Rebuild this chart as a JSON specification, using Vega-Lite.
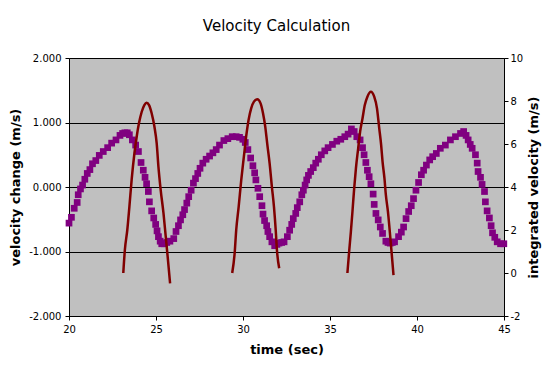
{
  "$schema": "https://vega.github.io/schema/vega-lite/v6.json",
  "width": 435,
  "height": 258,
  "autosize": {"type": "none"},
  "padding": {"left": 69, "top": 58, "right": 48, "bottom": 70},
  "background": "white",
  "title": {"text": "Velocity Calculation", "font": "DejaVu Sans", "fontSize": 15, "fontWeight": "normal", "color": "black", "offset": 19, "dx": -10},
  "config": {
    "view": {"fill": "#c0c0c0", "stroke": "#808080", "strokeWidth": 1},
    "locale": {"number": {"decimal": ".", "thousands": ",", "grouping": [3], "currency": ["$", ""], "minus": "-"}},
    "axis": {"labelFont": "DejaVu Sans", "labelFontSize": 10, "labelColor": "black", "titleFont": "DejaVu Sans", "titleFontSize": 13, "titleFontWeight": "bold", "titleColor": "black", "domainColor": "black", "tickColor": "black", "tickSize": 4}
  },
  "datasets": {
    "vel": [
      {"t": 20.00, "v": -0.56}, {"t": 20.14, "v": -0.47}, {"t": 20.30, "v": -0.33}, {"t": 20.47, "v": -0.24}, {"t": 20.53, "v": -0.12},
      {"t": 20.66, "v": -0.03}, {"t": 20.78, "v": 0.03}, {"t": 20.91, "v": 0.12}, {"t": 21.05, "v": 0.21}, {"t": 21.20, "v": 0.27},
      {"t": 21.35, "v": 0.36}, {"t": 21.54, "v": 0.41}, {"t": 21.74, "v": 0.49}, {"t": 21.97, "v": 0.55}, {"t": 22.22, "v": 0.61},
      {"t": 22.45, "v": 0.68}, {"t": 22.70, "v": 0.73}, {"t": 22.93, "v": 0.80}, {"t": 23.08, "v": 0.83}, {"t": 23.21, "v": 0.84}, {"t": 23.35, "v": 0.84},
      {"t": 23.47, "v": 0.81}, {"t": 23.64, "v": 0.73}, {"t": 23.83, "v": 0.65}, {"t": 23.99, "v": 0.55}, {"t": 24.14, "v": 0.38},
      {"t": 24.27, "v": 0.26}, {"t": 24.37, "v": 0.15}, {"t": 24.46, "v": 0.05}, {"t": 24.56, "v": -0.07}, {"t": 24.62, "v": -0.23},
      {"t": 24.75, "v": -0.37}, {"t": 24.87, "v": -0.48}, {"t": 24.98, "v": -0.58}, {"t": 25.06, "v": -0.68}, {"t": 25.14, "v": -0.77}, {"t": 25.24, "v": -0.84},
      {"t": 25.33, "v": -0.88}, {"t": 25.48, "v": -0.88}, {"t": 25.62, "v": -0.86}, {"t": 25.80, "v": -0.84}, {"t": 26.02, "v": -0.80}, {"t": 26.15, "v": -0.69},
      {"t": 26.29, "v": -0.60}, {"t": 26.41, "v": -0.51}, {"t": 26.54, "v": -0.43}, {"t": 26.64, "v": -0.35}, {"t": 26.77, "v": -0.25},
      {"t": 26.88, "v": -0.15}, {"t": 27.02, "v": -0.05}, {"t": 27.15, "v": 0.06}, {"t": 27.27, "v": 0.13}, {"t": 27.40, "v": 0.21},
      {"t": 27.53, "v": 0.29}, {"t": 27.69, "v": 0.37}, {"t": 27.88, "v": 0.43}, {"t": 28.08, "v": 0.48}, {"t": 28.27, "v": 0.53},
      {"t": 28.46, "v": 0.58}, {"t": 28.65, "v": 0.65}, {"t": 28.90, "v": 0.72}, {"t": 29.13, "v": 0.75}, {"t": 29.38, "v": 0.78},
      {"t": 29.61, "v": 0.78}, {"t": 29.80, "v": 0.77}, {"t": 29.99, "v": 0.74}, {"t": 30.13, "v": 0.69}, {"t": 30.28, "v": 0.58},
      {"t": 30.44, "v": 0.45}, {"t": 30.57, "v": 0.33}, {"t": 30.67, "v": 0.22}, {"t": 30.74, "v": 0.11}, {"t": 30.86, "v": -0.02},
      {"t": 30.96, "v": -0.15}, {"t": 31.09, "v": -0.29}, {"t": 31.15, "v": -0.42}, {"t": 31.24, "v": -0.52}, {"t": 31.36, "v": -0.60},
      {"t": 31.43, "v": -0.69}, {"t": 31.53, "v": -0.77}, {"t": 31.66, "v": -0.85}, {"t": 31.82, "v": -0.91}, {"t": 31.95, "v": -0.89}, {"t": 32.07, "v": -0.87},
      {"t": 32.22, "v": -0.86}, {"t": 32.36, "v": -0.85}, {"t": 32.55, "v": -0.77}, {"t": 32.68, "v": -0.67}, {"t": 32.80, "v": -0.58}, {"t": 32.89, "v": -0.49},
      {"t": 33.03, "v": -0.41}, {"t": 33.12, "v": -0.32}, {"t": 33.26, "v": -0.23}, {"t": 33.38, "v": -0.12}, {"t": 33.47, "v": -0.05},
      {"t": 33.57, "v": 0.03}, {"t": 33.66, "v": 0.11}, {"t": 33.76, "v": 0.18}, {"t": 33.89, "v": 0.24}, {"t": 34.04, "v": 0.30},
      {"t": 34.18, "v": 0.37}, {"t": 34.33, "v": 0.43}, {"t": 34.50, "v": 0.50}, {"t": 34.70, "v": 0.56}, {"t": 34.89, "v": 0.61},
      {"t": 35.14, "v": 0.66}, {"t": 35.39, "v": 0.71}, {"t": 35.62, "v": 0.74}, {"t": 35.85, "v": 0.78}, {"t": 36.04, "v": 0.82},
      {"t": 36.23, "v": 0.90}, {"t": 36.39, "v": 0.86}, {"t": 36.54, "v": 0.78}, {"t": 36.73, "v": 0.73}, {"t": 36.87, "v": 0.61},
      {"t": 36.96, "v": 0.50}, {"t": 37.06, "v": 0.38}, {"t": 37.15, "v": 0.26}, {"t": 37.25, "v": 0.16}, {"t": 37.35, "v": 0.05},
      {"t": 37.48, "v": -0.11}, {"t": 37.54, "v": -0.27}, {"t": 37.64, "v": -0.41}, {"t": 37.77, "v": -0.51}, {"t": 37.89, "v": -0.62},
      {"t": 38.02, "v": -0.72}, {"t": 38.21, "v": -0.84}, {"t": 38.33, "v": -0.86}, {"t": 38.46, "v": -0.87}, {"t": 38.58, "v": -0.86}, {"t": 38.71, "v": -0.85},
      {"t": 38.94, "v": -0.77}, {"t": 39.10, "v": -0.70}, {"t": 39.23, "v": -0.62}, {"t": 39.37, "v": -0.49}, {"t": 39.52, "v": -0.38}, {"t": 39.67, "v": -0.29},
      {"t": 39.80, "v": -0.18}, {"t": 39.94, "v": -0.05}, {"t": 40.09, "v": 0.07}, {"t": 40.25, "v": 0.19}, {"t": 40.38, "v": 0.26},
      {"t": 40.54, "v": 0.34}, {"t": 40.73, "v": 0.42}, {"t": 40.90, "v": 0.47}, {"t": 41.11, "v": 0.52}, {"t": 41.34, "v": 0.60},
      {"t": 41.63, "v": 0.65}, {"t": 41.92, "v": 0.73}, {"t": 42.21, "v": 0.78}, {"t": 42.50, "v": 0.83}, {"t": 42.68, "v": 0.86},
      {"t": 42.82, "v": 0.80}, {"t": 42.94, "v": 0.73}, {"t": 43.06, "v": 0.66}, {"t": 43.17, "v": 0.60}, {"t": 43.36, "v": 0.50}, {"t": 43.46, "v": 0.37}, {"t": 43.51, "v": 0.24},
      {"t": 43.65, "v": 0.15}, {"t": 43.74, "v": 0.04}, {"t": 43.88, "v": -0.07}, {"t": 43.93, "v": -0.23}, {"t": 44.03, "v": -0.37},
      {"t": 44.16, "v": -0.48}, {"t": 44.26, "v": -0.60}, {"t": 44.34, "v": -0.71}, {"t": 44.47, "v": -0.78}, {"t": 44.61, "v": -0.85},
      {"t": 44.80, "v": -0.88}, {"t": 44.99, "v": -0.88}
    ],
    "integ": [
      {"arch": 1, "t": 23.12, "r": 0.0}, {"arch": 1, "t": 23.21, "r": 1.07}, {"arch": 1, "t": 23.35, "r": 2.0}, {"arch": 1, "t": 23.47, "r": 3.08},
      {"arch": 1, "t": 23.60, "r": 4.33}, {"arch": 1, "t": 23.76, "r": 5.57}, {"arch": 1, "t": 23.89, "r": 6.34}, {"arch": 1, "t": 24.02, "r": 6.96},
      {"arch": 1, "t": 24.18, "r": 7.50}, {"arch": 1, "t": 24.33, "r": 7.81}, {"arch": 1, "t": 24.46, "r": 7.92}, {"arch": 1, "t": 24.60, "r": 7.81},
      {"arch": 1, "t": 24.75, "r": 7.43}, {"arch": 1, "t": 24.91, "r": 6.80}, {"arch": 1, "t": 25.04, "r": 6.03}, {"arch": 1, "t": 25.14, "r": 4.94},
      {"arch": 1, "t": 25.27, "r": 3.86}, {"arch": 1, "t": 25.43, "r": 2.78}, {"arch": 1, "t": 25.56, "r": 1.69}, {"arch": 1, "t": 25.67, "r": 0.76},
      {"arch": 1, "t": 25.81, "r": -0.48},
      {"arch": 2, "t": 29.38, "r": 0.0}, {"arch": 2, "t": 29.52, "r": 0.92}, {"arch": 2, "t": 29.61, "r": 2.0}, {"arch": 2, "t": 29.75, "r": 3.08},
      {"arch": 2, "t": 29.90, "r": 4.33}, {"arch": 2, "t": 30.05, "r": 5.41}, {"arch": 2, "t": 30.18, "r": 6.34}, {"arch": 2, "t": 30.32, "r": 7.12},
      {"arch": 2, "t": 30.47, "r": 7.66}, {"arch": 2, "t": 30.63, "r": 7.97}, {"arch": 2, "t": 30.82, "r": 8.08}, {"arch": 2, "t": 31.01, "r": 7.89},
      {"arch": 2, "t": 31.15, "r": 7.43}, {"arch": 2, "t": 31.28, "r": 6.80}, {"arch": 2, "t": 31.39, "r": 6.03}, {"arch": 2, "t": 31.53, "r": 5.10},
      {"arch": 2, "t": 31.66, "r": 4.01}, {"arch": 2, "t": 31.78, "r": 3.08}, {"arch": 2, "t": 31.88, "r": 2.0}, {"arch": 2, "t": 31.95, "r": 1.07},
      {"arch": 2, "t": 32.08, "r": 0.22},
      {"arch": 3, "t": 36.00, "r": 0.0}, {"arch": 3, "t": 36.10, "r": 0.99}, {"arch": 3, "t": 36.20, "r": 1.92}, {"arch": 3, "t": 36.29, "r": 2.85},
      {"arch": 3, "t": 36.39, "r": 3.94}, {"arch": 3, "t": 36.49, "r": 4.87}, {"arch": 3, "t": 36.62, "r": 5.80}, {"arch": 3, "t": 36.73, "r": 6.57},
      {"arch": 3, "t": 36.87, "r": 7.20}, {"arch": 3, "t": 37.00, "r": 7.81}, {"arch": 3, "t": 37.15, "r": 8.20}, {"arch": 3, "t": 37.35, "r": 8.43},
      {"arch": 3, "t": 37.54, "r": 8.20}, {"arch": 3, "t": 37.70, "r": 7.66}, {"arch": 3, "t": 37.83, "r": 6.73}, {"arch": 3, "t": 37.94, "r": 5.95},
      {"arch": 3, "t": 38.02, "r": 5.18}, {"arch": 3, "t": 38.13, "r": 4.40}, {"arch": 3, "t": 38.21, "r": 3.63}, {"arch": 3, "t": 38.33, "r": 2.85},
      {"arch": 3, "t": 38.42, "r": 2.08}, {"arch": 3, "t": 38.52, "r": 1.15}, {"arch": 3, "t": 38.65, "r": -0.1}
    ]
  },
  "layer": [
    {
      "data": {"name": "vel"},
      "mark": {"type": "point", "shape": "square", "filled": true, "size": 45, "color": "#800080", "opacity": 1},
      "encoding": {
        "x": {"field": "t", "type": "quantitative", "scale": {"domain": [20, 45], "nice": false, "zero": false},
              "axis": {"title": "time (sec)", "values": [20, 25, 30, 35, 40, 45], "grid": false, "labelPadding": 4, "titlePadding": 9, "labelFlush": false}},
        "y": {"field": "v", "type": "quantitative", "scale": {"domain": [-2, 2], "nice": false},
              "axis": {"title": "velocity change (m/s)", "orient": "left", "values": [-2, -1, 0, 1, 2], "format": ".3f", "grid": true, "gridColor": "black", "gridOpacity": 1, "gridWidth": 1, "labelPadding": 4, "titlePadding": 6}}
      }
    },
    {
      "data": {"name": "integ"},
      "mark": {"type": "line", "color": "#800000", "strokeWidth": 2.5, "interpolate": "monotone"},
      "encoding": {
        "x": {"field": "t", "type": "quantitative", "scale": {"domain": [20, 45], "nice": false, "zero": false}},
        "y": {"field": "r", "type": "quantitative", "scale": {"domain": [-2, 10], "nice": false},
              "axis": {"title": "integrated velocity (m/s)", "orient": "right", "values": [-2, 0, 2, 4, 6, 8, 10], "grid": false, "labelPadding": 2, "titlePadding": 18, "titleAngle": 270}},
        "detail": {"field": "arch", "type": "nominal"}
      }
    }
  ],
  "resolve": {"scale": {"y": "independent"}}
}
